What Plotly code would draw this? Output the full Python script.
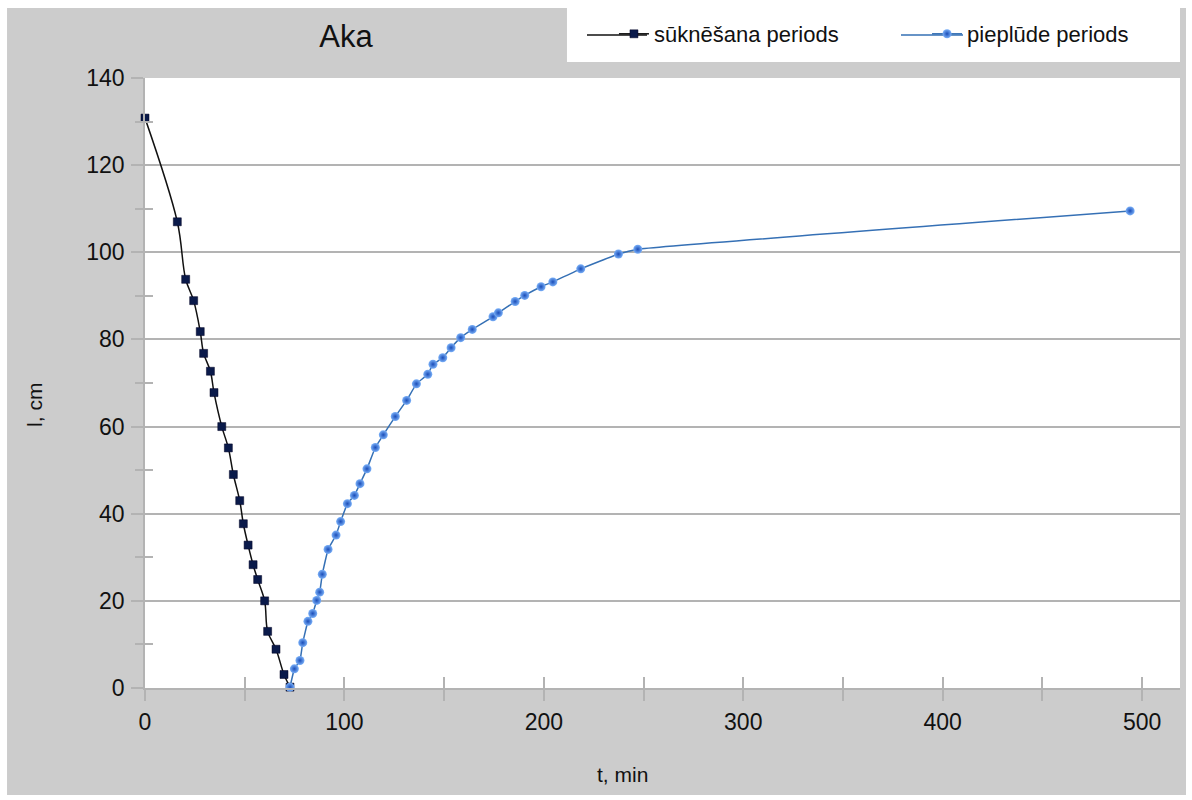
import plotly.graph_objects as go

# sūknēšana periods (pumping)
t_pump = [0, 16.2, 20.4, 24.4, 27.7, 29.4, 32.8, 34.6, 38.5, 41.8, 44.3, 47.5, 49.3,
          51.7, 54.2, 56.5, 60.0, 61.5, 65.7, 69.7, 72.7]
l_pump = [130.8, 107.0, 93.8, 88.9, 81.8, 76.8, 72.7, 67.8, 60.0, 55.1, 49.0, 43.0, 37.7,
          32.8, 28.3, 24.9, 20.0, 13.0, 8.9, 3.1, 0.2]

# pieplūde periods (recovery)
t_rec = [72.7, 74.9, 77.7, 79.1, 81.7, 84.1, 86.1, 87.6, 88.9, 91.8, 95.8, 98.1, 101.5,
         105.0, 107.8, 111.3, 115.5, 119.5, 125.5, 131.2, 136.1, 141.8, 144.4, 149.3,
         153.5, 158.3, 164.1, 174.5, 177.2, 185.6, 190.4, 198.6, 204.5, 218.5, 237.4,
         247.1, 494.0]
l_rec = [0.2, 4.4, 6.3, 10.4, 15.3, 17.1, 20.1, 22.0, 26.1, 31.8, 35.1, 38.2, 42.3,
         44.2, 46.9, 50.3, 55.2, 58.1, 62.3, 66.0, 69.8, 72.0, 74.3, 75.8,
         78.1, 80.4, 82.3, 85.2, 86.1, 88.7, 90.1, 92.1, 93.2, 96.2, 99.6,
         100.7, 109.5]

X_RANGE = [0, 519]
Y_RANGE = [0, 140]

FONT = "Liberation Sans, Arial, sans-serif"
GRAY = "#cccccc"
GRID = "#b3b3b3"
TXT = "#111111"
BLACK_LINE = "#111111"
BLUE_LINE = "#3570b5"

fig = go.Figure()
fig.add_trace(go.Scatter(
    x=t_pump, y=l_pump, name="sūknēšana periods", mode="lines+markers",
    line=dict(color=BLACK_LINE, width=1.5, shape="spline", smoothing=1.0),
    marker=dict(symbol="square", size=8, color="#0a1a4a",
                line=dict(color="#000022", width=0.5)),
    cliponaxis=False, legend="legend",
))
fig.add_trace(go.Scatter(
    x=t_rec, y=l_rec, name="pieplūde periods", mode="lines+markers",
    line=dict(color=BLUE_LINE, width=1.5, shape="spline", smoothing=0.3),
    marker=dict(symbol="circle", size=9, color="#7ab0f8",
                gradient=dict(type="radial", color="#1a4db8"),
                line=dict(width=0)),
    cliponaxis=False, legend="legend2",
))
# empty trace on the overlay axes (inner half of the crossing ticks)
fig.add_trace(go.Scatter(x=[None], y=[None], xaxis="x2", yaxis="y2",
                         showlegend=False, hoverinfo="skip"))

# grey chart area, white plot area, white legend box
fig.add_shape(type="rect", xref="paper", yref="paper", x0=-0.1333, x1=1.0058,
              y0=-0.1754, y1=1.1148, fillcolor=GRAY, line_width=0, layer="below")
fig.add_shape(type="rect", xref="paper", yref="paper", x0=0, x1=1, y0=0, y1=1,
              fillcolor="white", line_width=0, layer="below")
fig.add_shape(type="rect", xref="paper", yref="paper", x0=0.4077, x1=1.0,
              y0=1.0262, y1=1.14, fillcolor="white", line_width=0, layer="below")

# longer legend sample lines, as in the original chart
leg_y = (688 - 35) / 610
fig.add_shape(type="line", xref="paper", yref="paper", x0=(587 - 145) / 1035, x1=(647 - 145) / 1035,
              y0=leg_y, y1=leg_y, line=dict(color=BLACK_LINE, width=1.5))
fig.add_shape(type="line", xref="paper", yref="paper", x0=(901 - 145) / 1035, x1=(963 - 145) / 1035,
              y0=leg_y, y1=leg_y, line=dict(color=BLUE_LINE, width=1.5))

fig.add_annotation(text="l, cm", xref="paper", yref="paper", x=-0.1063, y=0.464,
                   xanchor="center", yanchor="middle",
                   textangle=-90, showarrow=False, font=dict(family=FONT, size=21, color=TXT))
fig.add_annotation(text="t, min", xref="paper", yref="paper", x=0.461, y=-0.1426,
                   xanchor="center", yanchor="middle",
                   showarrow=False, font=dict(family=FONT, size=21, color=TXT))

tick_font = dict(family=FONT, size=23, color=TXT)
legend_common = dict(orientation="h", xanchor="left", y=(688 - 34) / 610, yanchor="middle",
                     bgcolor="rgba(0,0,0,0)", font=dict(family=FONT, size=22, color=TXT))

fig.update_layout(
    width=1192, height=800,
    margin=dict(l=145, r=12, t=78, b=112),
    paper_bgcolor="white",
    plot_bgcolor="white",
    font=dict(family=FONT, size=21, color=TXT),
    title=dict(text="Aka", x=346 / 1192, xanchor="center", y=1 - 36 / 800, yanchor="middle",
               font=dict(family=FONT, size=31, color=TXT)),
    showlegend=True,
    legend=dict(x=0.4531, **legend_common),
    legend2=dict(x=0.7556, **legend_common),
    xaxis=dict(range=X_RANGE, tick0=0, dtick=100, showgrid=False, zeroline=False,
               showline=True, linecolor=GRID, linewidth=1.5,
               ticks="outside", ticklen=11, tickcolor=GRID, tickwidth=1.5,
               ticklabelstandoff=2,
               minor=dict(dtick=50, ticks="outside", ticklen=11, tickcolor=GRID, showgrid=False),
               tickfont=tick_font),
    yaxis=dict(range=Y_RANGE, tick0=0, dtick=20, showgrid=True, gridcolor=GRID, gridwidth=1.5,
               zeroline=False, showline=True, linecolor=GRID, linewidth=1.5,
               ticks="outside", ticklen=12, tickcolor=GRID, tickwidth=1.5,
               ticklabelstandoff=2,
               minor=dict(dtick=10, ticks="outside", ticklen=8, tickcolor=GRID, showgrid=False),
               tickfont=tick_font),
    xaxis2=dict(range=X_RANGE, overlaying="x", anchor="y2", side="bottom",
                tick0=0, dtick=100, showgrid=False, zeroline=False, showline=False,
                showticklabels=False, ticks="inside", ticklen=11, tickcolor=GRID, tickwidth=1.5,
                minor=dict(dtick=50, ticks="inside", ticklen=11, tickcolor=GRID, showgrid=False)),
    yaxis2=dict(range=Y_RANGE, overlaying="y", anchor="x2", side="left",
                tick0=0, dtick=20, showgrid=False, zeroline=False, showline=False,
                showticklabels=False, ticks="inside", ticklen=12, tickcolor=GRID, tickwidth=1.5,
                minor=dict(dtick=10, ticks="inside", ticklen=8, tickcolor=GRID, showgrid=False)),
)

fig.write_html("out.html", config={"displayModeBar": False},
               post_script="document.body.style.margin='0px';")
